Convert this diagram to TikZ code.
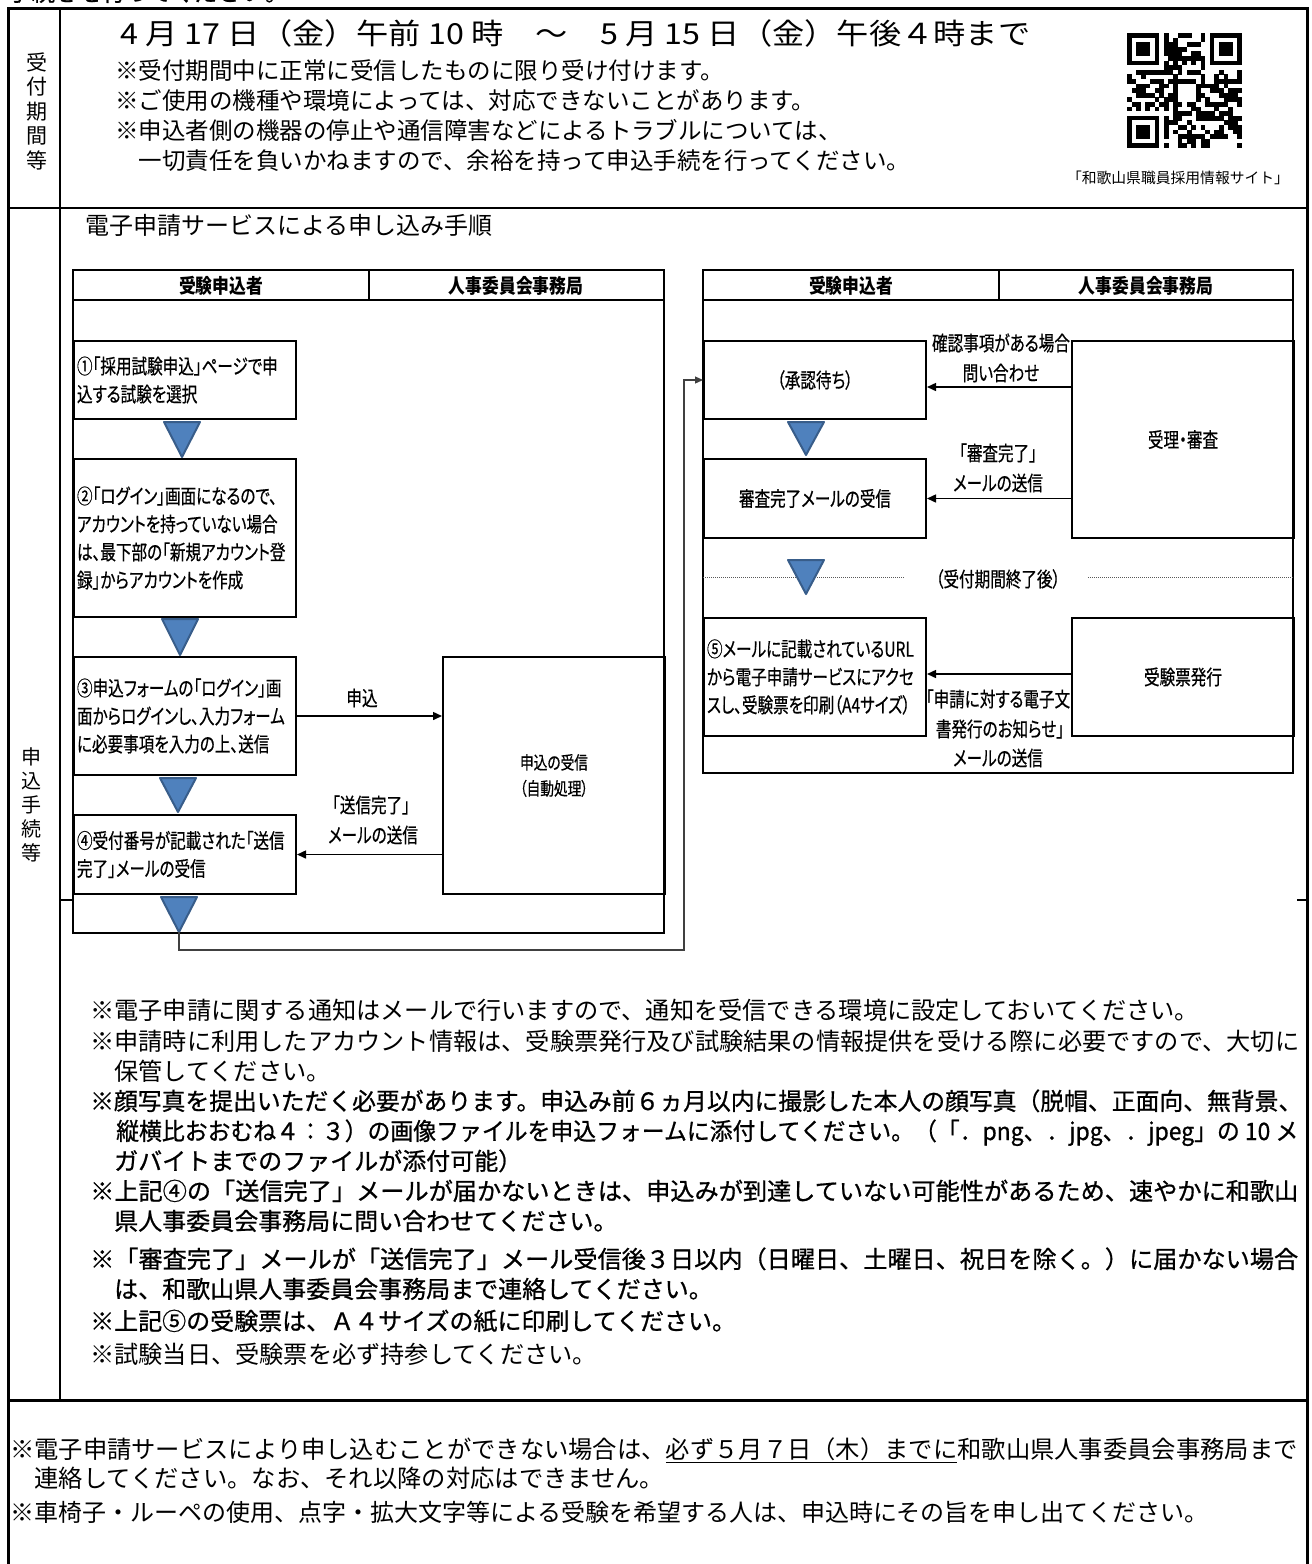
\documentclass[tikz,border=0pt]{standalone}
\usepackage{fontspec}
\usepackage{graphicx}
\usetikzlibrary{arrows.meta,calc}
\newfontfamily\jp{Noto Sans CJK JP}
\newfontfamily\jpg[FakeBold=0.8]{Noto Sans CJK JP}
\newfontfamily\jc[FakeStretch=0.76,FakeBold=0.5,RawFeature={+palt}]{Noto Sans CJK JP}
\newfontfamily\jch[FakeStretch=0.84]{Noto Sans CJK JP}
\definecolor{trifill}{RGB}{79,129,189}
\definecolor{triedge}{RGB}{56,93,138}
\newcommand\flowtri[2]{\filldraw[tri] ($#1+(-18,0)$) -- ($#1+(18,0)$) -- #2 -- cycle;}
\begin{document}
\begin{tikzpicture}[x=1pt,y=-1pt,
  frame/.style={line width=3pt},
  rule/.style={line width=1.5pt},
  lane/.style={line width=2pt},
  fbox/.style={draw,line width=2pt,anchor=north west,inner xsep=3pt,inner ysep=0pt,
    minimum width=222pt,font=\jc\fontsize{20.5}{28}\selectfont},
  lbox/.style={fbox,text width=216pt,align=left},
  cbox/.style={fbox,align=center},
  lbl/.style={inner sep=0pt,font=\jc\fontsize{20.5}{28}\selectfont},
  hdr/.style={inner sep=0pt,font=\jch\bfseries\fontsize{20}{20}\selectfont},
  tri/.style={fill=trifill,draw=triedge,line width=2pt,line join=round},
  arr/.style={line width=1.5pt,-{Triangle[length=9pt,width=8pt]}},
  conn/.style={line width=1.2pt,draw=black!75,-{Triangle[length=8pt,width=7pt]}},
  sep/.style={line width=1pt,draw=black!65,densely dotted},
  note/.style={anchor=base west,inner sep=0pt}]
\useasboundingbox (0,0) rectangle (1312,1564);
\fill[white] (0,0) rectangle (1312,1564);

% partially visible line at the very top
\begin{scope}
\clip (0,0) rectangle (1312,1564);
\node[note,font=\jpg\fontsize{23.5}{23.5}\selectfont] (topcut) at (8,1) {手続きを行ってください。};
\end{scope}

% table frame
\draw[frame] (8,1570) -- (8,8) -- (1307,8) -- (1307,1570);
\draw[rule] (8,208) -- (1307,208);
\draw[rule] (60,8) -- (60,1400);
\draw[frame] (8,1400) -- (1307,1400);
\draw[rule] (60,900) -- (73,900);
\draw[rule] (1297,900) -- (1307,900);

% left column labels
\node[inner sep=0pt,align=center,font=\jp\fontsize{21}{24.5}\selectfont] (colA) at (37,111) {受\\付\\期\\間\\等};
\node[inner sep=0pt,align=center,font=\jp\fontsize{20}{24}\selectfont] (colB) at (31,805) {申\\込\\手\\続\\等};

% row 1
\node[note,font=\jp\fontsize{29}{29}\selectfont] (date) at (120,44)
  {\resizebox{910pt}{\height}{4 月 17 日（金）午前 10 時　～　5 月 15 日（金）午後４時まで}};
\node[note,font=\jp\fontsize{23.5}{23.5}\selectfont] (r1a) at (115,79) {※受付期間中に正常に受信したものに限り受け付けます。};
\node[note,font=\jp\fontsize{23.5}{23.5}\selectfont] (r1b) at (115,109) {※ご使用の機種や環境によっては、対応できないことがあります。};
\node[note,font=\jp\fontsize{23.5}{23.5}\selectfont] (r1c) at (115,139) {※申込者側の機器の停止や通信障害などによるトラブルについては、};
\node[note,font=\jp\fontsize{23.5}{23.5}\selectfont] (r1d) at (115,169) {　一切責任を負いかねますので、余裕を持って申込手続を行ってください。};

% QR code
\pgfmathsetseed{4242}
\foreach \i in {0,...,24}{
  \foreach \j in {0,...,24}{
    \pgfmathtruncatemacro{\qskip}{ifthenelse(and(\i<8,\j<8),1,ifthenelse(and(\i>16,\j<8),1,ifthenelse(and(\i<8,\j>16),1,0)))}
    \ifnum\qskip=0
      \pgfmathtruncatemacro{\qtim}{ifthenelse(\j==6,1,ifthenelse(\i==6,1,0))}
      \ifnum\qtim=1
        \pgfmathtruncatemacro{\qblk}{ifthenelse(\j==6,ifthenelse(mod(\i,2)==0,1,0),ifthenelse(mod(\j,2)==0,1,0))}
      \else
        \pgfmathrandominteger{\qrr}{0}{99}
        \pgfmathtruncatemacro{\qblk}{ifthenelse(\qrr<50,1,0)}
      \fi
      \ifnum\qblk=1 \fill (\i*4.6+1127,\j*4.6+33) rectangle ++(4.8,4.8); \fi
    \fi
  }
}
\foreach \fx/\fy in {0/0,18/0,0/18}{
  \fill (\fx*4.6+1127,\fy*4.6+33) rectangle ++(32.2,32.2);
  \fill[white] (\fx*4.6+1127+4.6,\fy*4.6+33+4.6) rectangle ++(23,23);
  \fill (\fx*4.6+1127+9.2,\fy*4.6+33+9.2) rectangle ++(13.8,13.8);
}
\node[inner sep=0pt,font=\jp\fontsize{14.8}{14.8}\selectfont] (qrlabel) at (1178,178) {「和歌山県職員採用情報サイト」};

% row 2 heading
\node[note,font=\jp\fontsize{24}{24}\selectfont] (proc) at (85,234) {電子申請サービスによる申し込み手順};

% left swimlane
\draw[lane] (73,270) rectangle (664,933);
\draw[lane] (73,300) -- (664,300);
\draw[lane] (369,270) -- (369,300);
\node[hdr] (lh1) at (221,286) {受験申込者};
\node[hdr] (lh2) at (516,286) {人事委員会事務局};

% right swimlane
\draw[lane] (703,270) rectangle (1293,773);
\draw[lane] (703,300) -- (1293,300);
\draw[lane] (999,270) -- (999,300);
\node[hdr] (rh1) at (851,286) {受験申込者};
\node[hdr] (rh2) at (1146,286) {人事委員会事務局};

% left boxes
\node[lbox,minimum height=78pt] (b1) at (73,340) {①「採用試験申込」ページで申\\込する試験を選択};
\node[lbox,minimum height=158pt] (b2) at (73,458) {②「ログイン」画面になるので、\\アカウントを持っていない場合\\は、最下部の「新規アカウント登\\録」からアカウントを作成};
\node[lbox,minimum height=118pt] (b3) at (73,656) {③申込フォームの「ログイン」画\\面からログインし、入力フォーム\\に必要事項を入力の上、送信};
\node[lbox,minimum height=79pt] (b4) at (73,814) {④受付番号が記載された「送信\\完了」メールの受信};
\node[cbox,minimum height=237pt,font=\jc\fontsize{18}{26}\selectfont] (recv) at (442,656) {申込の受信\\（自動処理）};

% right boxes
\node[cbox,minimum height=78pt] (shonin) at (703,340) {（承認待ち）};
\node[cbox,minimum height=197pt] (juri) at (1071,340) {受理・審査};
\node[cbox,minimum height=79pt] (shinsa) at (703,458) {審査完了メールの受信};
\node[lbox,minimum height=118pt] (b5) at (703,617) {⑤メールに記載されているURL\\から電子申請サービスにアクセ\\スし、受験票を印刷（A4サイズ）};
\node[cbox,minimum height=118pt] (hakko) at (1071,617) {受験票発行};

% separator (after the acceptance period)
\node[lbl] (kikan) at (998,579) {（受付期間終了後）};
\draw[sep] (703,577) -- (905,577);
\draw[sep] (1088,577) -- (1293,577);

% triangles
\flowtri{(b1.south)+(-3,2)}{($(b2.north)+(-3,-1)$)}
\flowtri{(b2.south)+(-5,1)}{($(b3.north)+(-5,-1)$)}
\flowtri{(b3.south)+(-7,2)}{($(b4.north)+(-7,-2)$)}
\coordinate (t4tip) at ($(b4.south)+(-6,37)$);
\flowtri{(b4.south)+(-6,2)}{(t4tip)}
\flowtri{(shonin.south)+(-9,2)}{($(shinsa.north)+(-9,-3)$)}
\flowtri{(shinsa.south)+(-9,21)}{($(b5.north)+(-9,-23)$)}

% arrows and labels, left
\draw[arr] (b3.east) -- (b3.east -| recv.west);
\node[lbl] (lmoushi) at (362,698) {申込};
\draw[arr] (recv.west |- b4.east) -- (b4.east);
\node[lbl] (lsoushin1) at (371,805) {「送信完了」};
\node[lbl] (lsoushin2) at (373,835) {メールの送信};

% connector from left lane to right lane
\coordinate (via) at (684,950);
\draw[conn] (t4tip) |- (via) |- (shonin.west);

% arrows and labels, right
\draw[arr] ($(juri.west |- shonin.east)+(0,7)$) -- ($(shonin.east)+(0,7)$);
\node[lbl] (lkaku1) at (1001,343) {確認事項がある場合};
\node[lbl] (lkaku2) at (1001,373) {問い合わせ};
\draw[arr] (juri.west |- shinsa.east) -- (shinsa.east);
\node[lbl] (lshin1) at (998,453) {「審査完了」};
\node[lbl] (lshin2) at (998,483) {メールの送信};
\draw[arr] ($(hakko.west |- b5.east)+(0,-3)$) -- ($(b5.east)+(0,-3)$);
\node[lbl] (lden1) at (998,699) {「申請に対する電子文};
\node[lbl] (lden2) at (1000,729) {書発行のお知らせ」};
\node[lbl] (lden3) at (998,758) {メールの送信};

% row 2 notes
\node[note,font=\jp\fontsize{24.2}{24.2}\selectfont] (n1) at (90,1019) {※電子申請に関する通知はメールで行いますので、通知を受信できる環境に設定しておいてください。};
\node[note,font=\jp\fontsize{24.2}{24.2}\selectfont] (n2) at (90,1050) {※申請時に利用したアカウント情報は、受験票発行及び試験結果の情報提供を受ける際に必要ですので、大切に};
\node[note,font=\jp\fontsize{24.2}{24.2}\selectfont] (n3) at (90,1080) {　保管してください。};
\node[note,font=\jpg\fontsize{24}{24}\selectfont] (n4) at (90,1110) {\resizebox{1212pt}{\height}{※顔写真を提出いただく必要があります。申込み前６ヵ月以内に撮影した本人の顔写真（脱帽、正面向、無背景、}};
\node[note,font=\jpg\fontsize{24}{24}\selectfont] (n5) at (116,1140) {\resizebox{1182pt}{\height}{縦横比おおむね４：３）の画像ファイルを申込フォームに添付してください。（「．png、．jpg、．jpeg」の 10 メ}};
\node[note,font=\jpg\fontsize{24}{24}\selectfont] (n6) at (90,1170) {　ガバイトまでのファイルが添付可能）};
\node[note,font=\jpg\fontsize{24}{24}\selectfont] (n7) at (90,1200) {\resizebox{1208pt}{\height}{※上記④の「送信完了」メールが届かないときは、申込みが到達していない可能性があるため、速やかに和歌山}};
\node[note,font=\jpg\fontsize{24}{24}\selectfont] (n8) at (90,1230) {　県人事委員会事務局に問い合わせてください。};
\node[note,font=\jpg\fontsize{24}{24}\selectfont] (n9) at (90,1268) {\resizebox{1208pt}{\height}{※「審査完了」メールが「送信完了」メール受信後３日以内（日曜日、土曜日、祝日を除く。）に届かない場合}};
\node[note,font=\jpg\fontsize{24}{24}\selectfont] (n10) at (90,1298) {　は、和歌山県人事委員会事務局まで連絡してください。};
\node[note,font=\jpg\fontsize{24}{24}\selectfont] (n11) at (90,1330) {※上記⑤の受験票は、Ａ４サイズの紙に印刷してください。};
\node[note,font=\jp\fontsize{24.2}{24.2}\selectfont] (n12) at (90,1363) {※試験当日、受験票を必ず持参してください。};

% row 3
\node[note,font=\jp\fontsize{24.3}{24.3}\selectfont] (m1) at (10,1458) {※電子申請サービスにより申し込むことができない場合は、\underline{必ず５月７日（木）までに}和歌山県人事委員会事務局まで};
\node[note,font=\jp\fontsize{24.3}{24.3}\selectfont] (m2) at (10,1487) {　連絡してください。なお、それ以降の対応はできません。};
\node[note,font=\jp\fontsize{24}{24}\selectfont] (m3) at (10,1521) {※車椅子・ルーペの使用、点字・拡大文字等による受験を希望する人は、申込時にその旨を申し出てください。};
\end{tikzpicture}
\end{document}
